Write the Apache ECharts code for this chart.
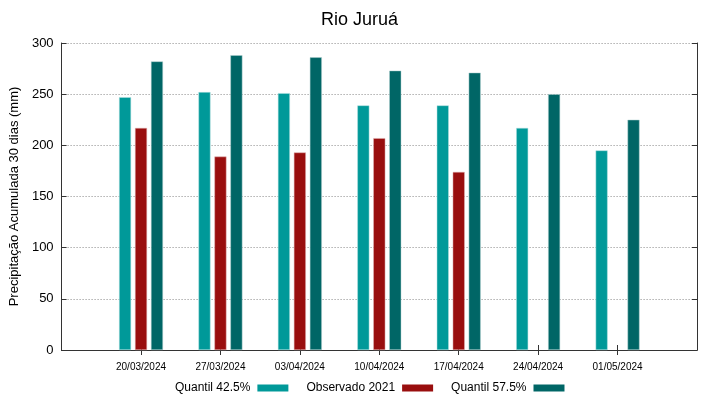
<!DOCTYPE html>
<html>
<head>
<meta charset="utf-8">
<script src="https://cdn.jsdelivr.net/npm/echarts@6/dist/echarts.min.js"></script>
<style>
html,body{margin:0;padding:0;background:#fff;}
#main{width:719px;height:399px;}
</style>
</head>
<body>
<div id="main"></div>
<script>
// dates, with empty slots at each end like the original plot
var datas = ['', '20/03/2024', '27/03/2024', '03/04/2024', '10/04/2024', '17/04/2024', '24/04/2024', '01/05/2024', ''];
var quantil425 = ['-', 247, 252, 251, 239, 239, 217, 195, '-'];
var observado2021 = ['-', 217, 189, 193, 207, 174, '-', '-', '-'];
var quantil575 = ['-', 282, 288, 286, 273, 271, 250, 225, '-'];
var yTicks = [0, 50, 100, 150, 200, 250, 300];

var fonte = 'Liberation Sans, Arial, sans-serif';
var myChart = echarts.init(document.getElementById('main'));
var option = {
    animation: false,
    title: {
        text: 'Rio Juruá',
        left: 'center',
        top: 6,
        textStyle: {fontFamily: fonte, fontSize: 18, fontWeight: 'normal', color: '#000'}
    },
    legend: {
        bottom: 0,
        left: 170,
        align: 'right',
        itemWidth: 31,
        itemHeight: 7,
        itemGap: 18,
        itemStyle: {borderWidth: 0},
        textStyle: {fontFamily: fonte, fontSize: 12, color: '#000', padding: [0, 2, 0, 0]},
        data: [
            {name: 'Quantil 42.5%', icon: 'rect'},
            {name: 'Observado 2021', icon: 'rect'},
            {name: 'Quantil 57.5%', icon: 'rect'}
        ]
    },
    grid: {left: 59, right: 22, top: 43, bottom: 49},
    xAxis: [{
        type: 'category',
        data: datas,
        boundaryGap: false,
        axisLine: {lineStyle: {color: '#333', width: 1}},
        axisTick: {inside: true, length: 5, lineStyle: {color: '#333'},
            interval: function(i){ return i > 0 && i < datas.length - 1; }},
        axisLabel: {fontFamily: fonte, fontSize: 10, color: '#000', margin: 12, interval: 0},
        splitLine: {show: false}
    }, {
        type: 'category',
        data: datas,
        position: 'top',
        boundaryGap: false,
        axisLine: {lineStyle: {color: '#333', width: 1}},
        axisTick: {inside: true, length: 5, lineStyle: {color: '#333'},
            interval: function(i){ return i > 0 && i < datas.length - 1; }},
        axisLabel: {show: false}
    }],
    yAxis: [{
        type: 'value',
        min: yTicks[0],
        max: yTicks[yTicks.length - 1],
        interval: 50,
        name: 'Precipitação Acumulada 30 dias (mm)',
        nameLocation: 'middle',
        nameGap: 36,
        nameTextStyle: {fontFamily: fonte, fontSize: 13, color: '#000'},
        axisLine: {show: true, lineStyle: {color: '#333'}},
        axisTick: {show: true, inside: true, length: 5, lineStyle: {color: '#333'}},
        axisLabel: {fontFamily: fonte, fontSize: 13, color: '#000', margin: 8},
        splitLine: {show: true, lineStyle: {type: [1, 2], color: '#888', width: 1}}
    }, {
        type: 'value',
        min: yTicks[0],
        max: yTicks[yTicks.length - 1],
        interval: 50,
        position: 'right',
        axisLine: {show: true, lineStyle: {color: '#333'}},
        axisTick: {show: true, inside: true, length: 5, lineStyle: {color: '#333'}},
        axisLabel: {show: false},
        splitLine: {show: false}
    }],
    series: [
        {name: 'Quantil 42.5%', type: 'bar', data: quantil425, barWidth: 12, barGap: '33%',
            itemStyle: {color: '#009999', borderColor: '#b3e0e0', borderWidth: 0.5}},
        {name: 'Observado 2021', type: 'bar', data: observado2021, barWidth: 12, barGap: '33%',
            itemStyle: {color: '#990e0e', borderColor: '#e0b3b3', borderWidth: 0.5}},
        {name: 'Quantil 57.5%', type: 'bar', data: quantil575, barWidth: 12, barGap: '33%',
            itemStyle: {color: '#006666', borderColor: '#b3d1d1', borderWidth: 0.5}}
    ]
};
myChart.setOption(option);
</script>
</body>
</html>
